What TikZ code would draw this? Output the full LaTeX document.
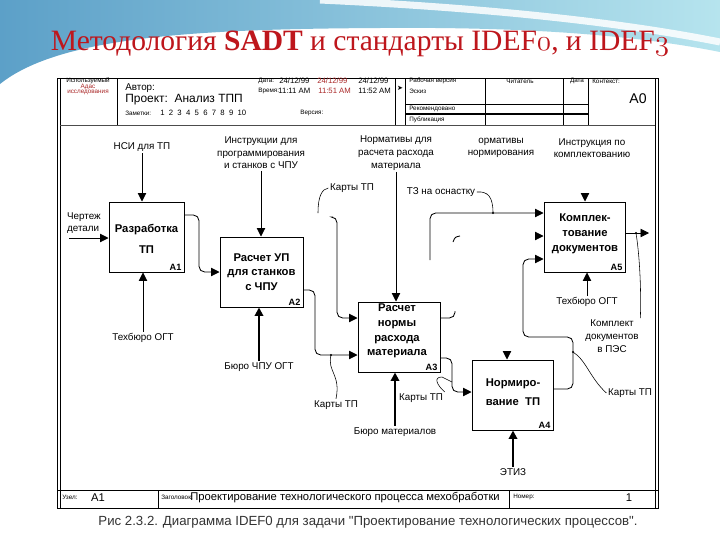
\documentclass[tikz,border=0pt]{standalone}
\usepackage{fontspec}
\setmainfont{Liberation Serif}
\newfontfamily\idefsans{Liberation Sans}
\newfontfamily\idefsym{DejaVu Sans}
\usetikzlibrary{positioning, arrows.meta, calc}

\definecolor{titlered}{RGB}{190,22,28}
\definecolor{bannerL}{RGB}{92,160,200}
\definecolor{bannerR}{RGB}{182,228,238}
\definecolor{hdrred}{RGB}{170,40,40}

\newcommand{\osn}[1]{{\usefont{OML}{cmm}{m}{it}#1}}

\begin{document}
\begin{tikzpicture}[
    x=0.025cm, y=-0.025cm,
    func/.style={rectangle, draw, line width=0.7pt, minimum height=1.75cm},
    ftxt/.style={font=\idefsans\bfseries\fontsize{8}{10.5}\selectfont, align=center, inner sep=0pt},
    num/.style={font=\idefsans\bfseries\fontsize{6.5}{7}\selectfont, inner sep=1pt},
    lbl/.style={font=\idefsans\fontsize{7}{9}\selectfont, align=center, inner sep=1pt},
    tiny/.style={font=\idefsans\fontsize{4.5}{5}\selectfont, inner sep=0pt, anchor=west},
    small/.style={font=\idefsans\fontsize{5.5}{6}\selectfont, inner sep=0pt, anchor=west},
    edge/.style={-{Triangle[length=6pt, width=6pt]}, line width=0.6pt, rounded corners=4pt},
    mech/.style={edge, line width=1.4pt},
    line/.style={line width=0.6pt, rounded corners=4pt},
    squig/.style={line width=0.4pt},
    frame/.style={line width=0.7pt}
]
\useasboundingbox (0,0) rectangle (720,540);
\fill[white] (0,0) rectangle (720,540);

% ================= BANNER =================
\shade[left color=bannerL, right color=bannerR]
    (0,0) -- (720,0) -- (720,52) .. controls (620,32) and (500,27) .. (380,28)
    .. controls (200,29) and (60,36) .. (0,84) -- cycle;
\draw[white, line width=5pt, opacity=0.85]
    (320,0) .. controls (450,6) and (600,18) .. (720,42);

\node[font=\fontsize{21}{24}\selectfont, text=titlered, anchor=base] (title) at (360,50)
    {Методология \textbf{SADT} и стандарты IDEF\osn{0}, и IDEF\osn{3}};

% ================= FRAME =================
\draw[frame] (57,78) rectangle (658,508);
\draw[frame] (60,78) -- (60,508);
\draw[frame] (655,78) -- (655,508);
\draw[line width=0.4pt, black!70] (60,125) -- (655,125);
\foreach \x in {117,395,405,485,563,588}
    \draw[line width=0.5pt] (\x,78) -- (\x,125);
\draw[line width=0.4pt] (405,104) -- (588,104);
\draw[line width=1.4pt] (405,114) -- (588,114);
\draw[frame] (57,490) -- (658,490);
\foreach \x in {158,509}
    \draw[frame] (\x,490) -- (\x,508);

% header
\node[tiny, anchor=center] (used) at (88,81) {Используемый};
\node[tiny, anchor=center, text=hdrred] (useda) at (88,87) {Адас};
\node[tiny, anchor=center, text=hdrred] (usedb) at (88,92) {исследования};
\node[font=\idefsans\fontsize{7}{8}\selectfont, inner sep=0pt, anchor=west] (author) at (125,88) {Автор:};
\node[font=\idefsans\fontsize{8.5}{9}\selectfont, inner sep=0pt, anchor=west] (proj) at (125,100) {Проект:\ \ Анализ ТПП};
\node[tiny] (notes) at (125,113) {Заметки:};
\node[small] (notesn) at (160,113) {1\ \ 2\ \ 3\ \ 4\ \ 5\ \ 6\ \ 7\ \ 8\ \ 9\ \ 10};
\node[tiny] (datel) at (258,81) {Дата:};
\node[tiny] (timel) at (258,91) {Время:};
\node[tiny] (verl) at (300,113) {Версия:};
\node[small] (d1) at (279,81) {24/12/99};
\node[small, text=hdrred] (d2) at (317,81) {24/12/99};
\node[small] (d3) at (358,81) {24/12/99};
\node[small] (t1) at (278,91) {11:11 AM};
\node[small, text=hdrred] (t2) at (318,91) {11:51 AM};
\node[small] (t3) at (358,91) {11:52 AM};
\node[font=\idefsym\fontsize{5}{5}\selectfont, inner sep=0pt] (mark) at (400,88) {➤};
\node[tiny] (work) at (409,81) {Рабочая версия};
\node[tiny] (draft) at (409,91) {Эскиз};
\node[tiny] (recom) at (409,109) {Рекомендовано};
\node[tiny] (publ) at (409,120) {Публикация};
\node[tiny, anchor=center] (reader) at (520,81) {Читатель};
\node[tiny, anchor=center] (rdate) at (577,81) {Дата};
\node[tiny] (ctx) at (592,81) {Контекст:};
\node[font=\idefsans\fontsize{10}{11}\selectfont, inner sep=0pt] (ctxa) at (638,99) {A0};

% footer
\node[tiny] (nodel) at (62,497) {Узел:};
\node[font=\idefsans\fontsize{8}{9}\selectfont, inner sep=0pt] (nodea) at (98,498) {A1};
\node[tiny] (headl) at (161,497) {Заголовок:};
\node[font=\idefsans\fontsize{8}{9}\selectfont, inner sep=0pt, anchor=west] (headt) at (190,498)
    {Проектирование технологического процесса мехобработки};
\node[tiny] (numl) at (513,497) {Номер:};
\node[font=\idefsans\fontsize{8}{9}\selectfont, inner sep=0pt] (numv) at (629,498) {1};

\node[font=\idefsans\fontsize{9.4}{10}\selectfont, text=black!80] (caption) at (368,522)
    {Рис 2.3.2. Диаграмма IDEF0 для задачи "Проектирование технологических процессов".};

% ================= BOXES =================
\node[func, minimum width=1.875cm] (a1) at (146.5,237) {};
\node[ftxt] (a1t) at (146.5,239) {Разработка\\[4pt]ТП};
\node[num, above left=0pt and 1pt of a1.south east] (a1n) {A1};

\node[func, minimum width=2.075cm] (a2) at (261.5,272) {};
\node[ftxt] (a2t) at (261.5,272) {Расчет УП\\для станков\\с ЧПУ};
\node[num, above left=0pt and 1pt of a2.south east] (a2n) {A2};

\node[func, minimum width=2.05cm] (a3) at (399,337) {};
\node[ftxt] (a3t) at (397,331) {Расчет\\нормы\\расхода\\материала};
\node[num, above left=0pt and 1pt of a3.south east] (a3n) {A3};

\node[func, minimum width=2.025cm] (a4) at (512.5,395) {};
\node[ftxt] (a4t) at (513,392) {Нормиро-\\[3pt]вание\ \ ТП};
\node[num, above left=0pt and 1pt of a4.south east] (a4n) {A4};

\node[func, minimum width=2.025cm] (a5) at (584.5,237) {};
\node[ftxt] (a5t) at (585,234) {Комплек-\\тование\\документов};
\node[num, above left=0pt and 1pt of a5.south east] (a5n) {A5};

% ================= LABELS =================
\node[lbl] (nsi) at (142,147) {НСИ для ТП};
\node[lbl, align=left] (chert) at (84,223) {Чертеж\\детали};
\node[lbl] (tb1) at (143,338) {Техбюро ОГТ};
\node[lbl] (instr) at (261,153) {Инструкции для\\программирования\\и станков с ЧПУ};
\node[lbl] (bchpu) at (259,367) {Бюро ЧПУ ОГТ};
\node[lbl] (norm) at (396,153) {Нормативы для\\расчета расхода\\материала};
\node[lbl] (normn) at (501,148) {ормативы\\нормирования};
\node[lbl] (instk) at (592,148) {Инструкция по\\комплектованию};
\node[lbl] (kt1) at (352,188) {Карты ТП};
\node[lbl] (tz) at (441,192) {ТЗ на оснастку};
\node[lbl] (kt2) at (336,405) {Карты ТП};
\node[lbl] (kt3) at (421,398) {Карты ТП};
\node[lbl] (bmat) at (395,432) {Бюро материалов};
\node[lbl] (etiz) at (513,472) {ЭТИЗ};
\node[lbl] (tb5) at (587,302) {Техбюро ОГТ};
\node[lbl] (kompl) at (612,336) {Комплект\\документов\\в ПЭС};
\node[lbl] (kt4) at (630,393) {Карты ТП};

\coordinate (chin) at (69,238);
\coordinate (k1top) at (333,217);
\coordinate (tzs) at (430,260);
\coordinate (a4c) at (507,351);
\coordinate (a5c) at (585,193);
\coordinate (a5i) at (536,236);
\coordinate (a5o) at (649,233);
\coordinate (k2) at (331,355);
\coordinate (k3) at (493,213);
\coordinate (k4) at (573,352);
\coordinate (k5) at (636,233);

% ================= ARROWS =================
\draw[edge] (nsi) -- (nsi |- a1.north);
\draw[edge] (chin) -- (chin -| a1.west);
\draw[edge] (tb1) -- (tb1 |- a1.south);
\draw[edge] (instr) -- (instr |- a2.north);
\draw[mech] (bchpu) -- (bchpu |- a2.south);
\draw[edge] (norm) -- (norm |- a3.north);
\draw[mech] (bmat) -- (bmat |- a3.south);
\draw[mech] (etiz) -- (etiz |- a4.south);
\draw[edge] (tb5) -- (tb5 |- a5.south);
\draw[edge] (a4c) -- (a4c |- a4.north);
\draw[edge] (a5c) -- (a5c |- a5.north);
\draw[edge] (a5i) -- (a5i -| a5.west);

\draw[edge] (a1.east |- 0,215) -- (199,215) -- (199,272) -- (a2.west |- 0,272);
\draw[edge] (a2.east |- 0,290) -- (315,290) -- (315,355) -- (a3.west |- 0,355);
\draw[edge] (k1top) -- (337,217) -- (337,318) -- (a3.west |- 0,318);
\draw[line] (a3.east |- 0,318) -- (455,318) -- (455,311);
\draw[edge] (a3.east |- 0,358) -- (452,358) -- (452,392) -- (a4.west |- 0,392);
\draw[edge] (tzs) -- (430,213) -- (a5.west |- 0,213);
\draw[edge] (a4.east |- 0,389) -- (573,389) -- (573,337) -- (523,337) -- (523,259) -- (a5.west |- 0,259);
\draw[edge] (a5.east |- 0,233) -- (a5o);
\draw[line] (453,242) .. controls (455,237) .. (460,236);

% tildes
\fill (k2) circle[radius=0.8pt];
\fill (k3) circle[radius=0.8pt];
\fill (k4) circle[radius=0.8pt];
\fill (k5) circle[radius=0.8pt];
\draw[squig] (kt1.west) .. controls (322,189) and (318,196) .. (318,213);
\draw[squig] (tz.east) .. controls (488,191) and (493,197) .. (k3);
\draw[squig] (k2) .. controls (327,372) and (341,374) .. (kt2.north);
\draw[squig] (kt3.north east) .. controls (437,385) and (433,377) .. (442,377) -- (452,382);
\draw[squig] (k4) .. controls (586,360) and (590,378) .. (kt4.west);
\draw[squig] (k5) .. controls (641,265) and (641,305) .. (kompl.north east);

\end{tikzpicture}
\end{document}
